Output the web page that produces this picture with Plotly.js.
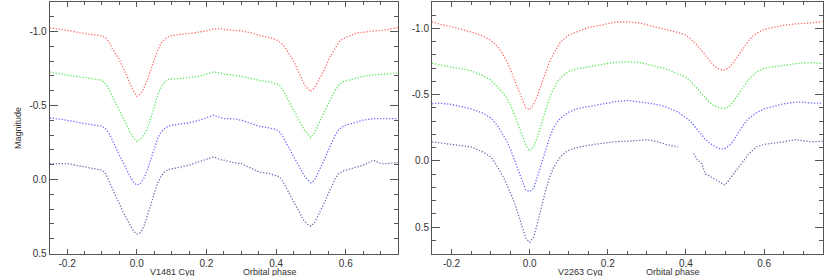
<!DOCTYPE html>
<html>
<head>
<meta charset="utf-8">
<script src="https://cdn.plot.ly/plotly-3.0.1.min.js"></script>
<style>html,body{margin:0;padding:0;background:#fff;}#chart{width:830px;height:276px;}</style>
</head>
<body>
<div id="chart"></div>
<script>
// ---- Left panel: V1481 Cyg ----
const phaseL = [-0.25,-0.2,-0.15,-0.12,-0.1,-0.09,-0.08,-0.07,-0.06,-0.05,-0.04,-0.03,-0.02,-0.01,
  0,0.01,0.02,0.03,0.04,0.05,0.06,0.07,0.08,0.09,0.1,0.12,0.15,0.18,0.2,0.22,0.24,
  0.25,0.28,0.3,0.33,0.35,0.38,0.4,0.41,0.42,0.43,0.44,0.45,0.46,0.47,0.48,0.49,0.5,0.51,0.52,
  0.54,0.55,0.56,0.57,0.58,0.59,0.6,0.63,0.65,0.68,0.7,0.72,0.75];
const redL = [-1.025,-1.009,-0.986,-0.98,-0.971,-0.96,-0.93,-0.885,-0.85,-0.81,-0.76,-0.705,-0.65,-0.60,
  -0.563,-0.577,-0.615,-0.67,-0.74,-0.806,-0.874,-0.923,-0.948,-0.964,-0.973,-0.98,-0.986,-0.998,-1.005,-1.018,-1.02,
  -1.014,-1.01,-1.005,-0.991,-0.975,-0.96,-0.946,-0.93,-0.908,-0.878,-0.84,-0.802,-0.75,-0.694,-0.649,-0.615,-0.595,-0.62,-0.66,
  -0.75,-0.806,-0.85,-0.896,-0.93,-0.948,-0.96,-0.99,-0.995,-1.0,-1.005,-1.014,-1.027];
const greenL = [-0.727,-0.705,-0.689,-0.676,-0.671,-0.649,-0.615,-0.559,-0.514,-0.468,-0.423,-0.374,-0.322,-0.284,
  -0.257,-0.27,-0.30,-0.345,-0.412,-0.491,-0.57,-0.626,-0.66,-0.676,-0.68,-0.682,-0.689,-0.698,-0.712,-0.727,-0.72,
  -0.712,-0.705,-0.698,-0.682,-0.671,-0.66,-0.649,-0.637,-0.608,-0.559,-0.514,-0.468,-0.423,-0.378,-0.338,-0.311,-0.284,-0.315,-0.367,
  -0.468,-0.514,-0.559,-0.604,-0.637,-0.658,-0.667,-0.687,-0.698,-0.707,-0.712,-0.716,-0.72];
const blueL = [-0.417,-0.401,-0.378,-0.367,-0.36,-0.345,-0.315,-0.266,-0.209,-0.164,-0.12,-0.068,-0.023,0.016,
  0.038,0.027,-0.007,-0.063,-0.131,-0.209,-0.277,-0.322,-0.345,-0.36,-0.367,-0.374,-0.383,-0.401,-0.419,-0.435,-0.419,
  -0.412,-0.41,-0.401,-0.378,-0.36,-0.349,-0.338,-0.322,-0.288,-0.243,-0.198,-0.153,-0.108,-0.068,-0.029,0.0,0.023,0.005,-0.041,
  -0.142,-0.198,-0.255,-0.30,-0.338,-0.356,-0.367,-0.39,-0.401,-0.412,-0.412,-0.417,-0.412];
const navyL = [-0.108,-0.108,-0.086,-0.074,-0.063,-0.041,0.005,0.061,0.117,0.162,0.218,0.264,0.309,0.347,
  0.369,0.36,0.32,0.252,0.173,0.095,0.027,-0.023,-0.052,-0.068,-0.074,-0.081,-0.097,-0.119,-0.135,-0.153,-0.135,
  -0.131,-0.113,-0.108,-0.074,-0.052,-0.041,-0.029,-0.018,0.016,0.061,0.106,0.151,0.196,0.241,0.279,0.302,0.315,0.293,0.248,
  0.151,0.095,0.038,-0.007,-0.041,-0.056,-0.063,-0.086,-0.097,-0.131,-0.108,-0.108,-0.115];

// ---- Right panel: V2263 Cyg ----
const phaseR = [-0.25,-0.23,-0.2,-0.18,-0.15,-0.12,-0.1,-0.09,-0.08,-0.07,-0.06,-0.05,-0.04,-0.03,-0.02,-0.01,
  0,0.01,0.02,0.03,0.04,0.05,0.06,0.07,0.08,0.09,0.1,0.12,0.15,0.18,0.2,0.22,
  0.25,0.28,0.3,0.33,0.35,0.38,0.4,0.41,0.42,0.43,0.44,0.45,0.46,0.47,0.48,0.49,0.5,0.51,0.52,0.53,0.54,0.55,0.56,0.57,0.58,
  0.6,0.63,0.65,0.68,0.7,0.72,0.75];
const redR = [-1.052,-1.032,-1.014,-0.999,-0.974,-0.944,-0.911,-0.886,-0.856,-0.811,-0.761,-0.694,-0.618,-0.543,-0.468,-0.401,
  -0.386,-0.426,-0.493,-0.581,-0.668,-0.744,-0.806,-0.856,-0.901,-0.926,-0.95,-0.974,-1.007,-1.024,-1.037,-1.049,
  -1.049,-1.042,-1.027,-1.007,-0.989,-0.969,-0.95,-0.926,-0.901,-0.869,-0.831,-0.794,-0.756,-0.724,-0.699,-0.689,-0.686,-0.706,-0.736,-0.781,-0.826,-0.869,-0.906,-0.939,-0.962,
  -0.994,-1.014,-1.024,-1.034,-1.037,-1.042,-1.052];
const greenR = [-0.736,-0.726,-0.711,-0.699,-0.681,-0.643,-0.611,-0.581,-0.551,-0.518,-0.481,-0.426,-0.356,-0.28,-0.205,-0.118,
  -0.075,-0.105,-0.18,-0.28,-0.381,-0.468,-0.536,-0.593,-0.631,-0.656,-0.676,-0.694,-0.711,-0.726,-0.736,-0.744,
  -0.749,-0.744,-0.731,-0.711,-0.694,-0.656,-0.631,-0.606,-0.576,-0.543,-0.506,-0.473,-0.443,-0.418,-0.406,-0.398,-0.396,-0.411,-0.443,-0.486,-0.531,-0.576,-0.613,-0.643,-0.669,
  -0.699,-0.714,-0.724,-0.734,-0.739,-0.741,-0.736];
const blueR = [-0.431,-0.436,-0.426,-0.411,-0.393,-0.361,-0.325,-0.293,-0.255,-0.205,-0.155,-0.093,-0.018,0.058,0.145,0.22,
  0.233,0.208,0.12,0.02,-0.08,-0.168,-0.243,-0.293,-0.325,-0.348,-0.368,-0.393,-0.411,-0.426,-0.438,-0.448,
  -0.456,-0.448,-0.438,-0.423,-0.406,-0.368,-0.33,-0.305,-0.268,-0.23,-0.193,-0.16,-0.135,-0.113,-0.098,-0.088,-0.093,-0.113,-0.143,-0.193,-0.243,-0.285,-0.318,-0.343,-0.363,
  -0.393,-0.418,-0.431,-0.443,-0.443,-0.436,-0.436];
const navyR = [-0.143,-0.135,-0.123,-0.118,-0.105,-0.068,-0.03,0.008,0.058,0.108,0.17,0.233,0.308,0.396,0.483,0.584,
  0.616,0.576,0.471,0.346,0.233,0.133,0.058,0.008,-0.035,-0.06,-0.08,-0.1,-0.118,-0.13,-0.138,-0.145,
  -0.148,-0.155,-0.16,-0.143,-0.123,-0.105,null,null,-0.055,-0.005,0.02,0.1,0.115,0.133,0.153,0.17,0.183,0.145,0.108,0.07,0.033,-0.01,-0.05,-0.08,-0.105,
  -0.125,-0.135,-0.143,-0.16,-0.15,-0.143,-0.148];

const xTickVals = [-0.2,0,0.2,0.4,0.6];
const xTickText = ['-0.2','0.0','0.2','0.4','0.6'];
const yTickValsL = [-1.0,-0.5,0,0.5];
const yTickTextL = ['-1.0','-0.5','0.0','0.5'];
const yTickValsR = [-1.0,-0.5,0,0.5];
const yTickTextR = ['-1.0','-0.5','0.0','0.5'];

const colors = {red:'#ff6e6e', green:'#5ee65e', blue:'#6e6eff', navy:'#6e6eb0'};

function curve(x, y, col, xa, ya) {
  return {x:x, y:y, xaxis:xa, yaxis:ya, type:'scatter', mode:'lines',
    line:{color:col, width:1.3, dash:'1.3px,1.7px'}, hoverinfo:'skip', showlegend:false};
}

const data = [
  curve(phaseL, redL, colors.red, 'x', 'y'),
  curve(phaseL, greenL, colors.green, 'x', 'y'),
  curve(phaseL, blueL, colors.blue, 'x', 'y'),
  curve(phaseL, navyL, colors.navy, 'x', 'y'),
  curve(phaseR, redR, colors.red, 'x2', 'y2'),
  curve(phaseR, greenR, colors.green, 'x2', 'y2'),
  curve(phaseR, blueR, colors.blue, 'x2', 'y2'),
  curve(phaseR, navyR, colors.navy, 'x2', 'y2')
];

const font = {family:'Liberation Sans, Arial, sans-serif', size:9, color:'#333'};
const tickFont = {family:'Liberation Sans, Arial, sans-serif', size:10, color:'#333'};
const axCommon = {showline:true, linecolor:'#555', linewidth:1, mirror:'allticks', ticks:'inside',
  tickcolor:'#555', showgrid:false, zeroline:false, tickfont:tickFont, fixedrange:true};

const yDom = [1-253.5/276, 1-2/276];
const layout = {
  width:830, height:276, margin:{l:0,r:0,t:0,b:0}, paper_bgcolor:'#fff', plot_bgcolor:'#fff',
  font:font, showlegend:false,
  xaxis: Object.assign({}, axCommon, {domain:[49.7/830, 398/830], range:[-0.25,0.75], anchor:'y',
    tickmode:'array', tickvals:xTickVals, ticktext:xTickText, ticklen:5,
    minor:{tickmode:'linear', tick0:0, dtick:0.05, ticks:'inside', ticklen:3, tickcolor:'#555'}}),
  yaxis: Object.assign({}, axCommon, {domain:yDom, range:[0.5,-1.2], anchor:'x',
    tickmode:'array', tickvals:yTickValsL, ticktext:yTickTextL, ticklen:8,
    minor:{tickmode:'linear', tick0:0, dtick:0.1, ticks:'inside', ticklen:4, tickcolor:'#555'}}),
  xaxis2: Object.assign({}, axCommon, {domain:[432/830, 822.7/830], range:[-0.25,0.75], anchor:'y2',
    tickmode:'array', tickvals:xTickVals, ticktext:xTickText, ticklen:5,
    minor:{tickmode:'linear', tick0:0, dtick:0.05, ticks:'inside', ticklen:3, tickcolor:'#555'}}),
  yaxis2: Object.assign({}, axCommon, {domain:yDom, range:[0.7,-1.2], anchor:'x2',
    tickmode:'array', tickvals:yTickValsR, ticktext:yTickTextR, ticklen:8,
    minor:{tickmode:'linear', tick0:0, dtick:0.1, ticks:'inside', ticklen:4, tickcolor:'#555'}}),
  annotations: [
    {text:'Magnitude', xref:'paper', yref:'paper', x:18/830, y:1-128/276, textangle:-90, showarrow:false, font:font, xanchor:'center', yanchor:'middle'},
    {text:'V1481 Cyg', xref:'paper', yref:'paper', x:172/830, y:1-272/276, showarrow:false, font:font, xanchor:'center', yanchor:'middle'},
    {text:'Orbital phase', xref:'paper', yref:'paper', x:270/830, y:1-272/276, showarrow:false, font:font, xanchor:'center', yanchor:'middle'},
    {text:'V2263 Cyg', xref:'paper', yref:'paper', x:580/830, y:1-272/276, showarrow:false, font:font, xanchor:'center', yanchor:'middle'},
    {text:'Orbital phase', xref:'paper', yref:'paper', x:673/830, y:1-272/276, showarrow:false, font:font, xanchor:'center', yanchor:'middle'}
  ]
};

Plotly.newPlot('chart', data, layout, {staticPlot:true, displayModeBar:false});
</script>
</body>
</html>
